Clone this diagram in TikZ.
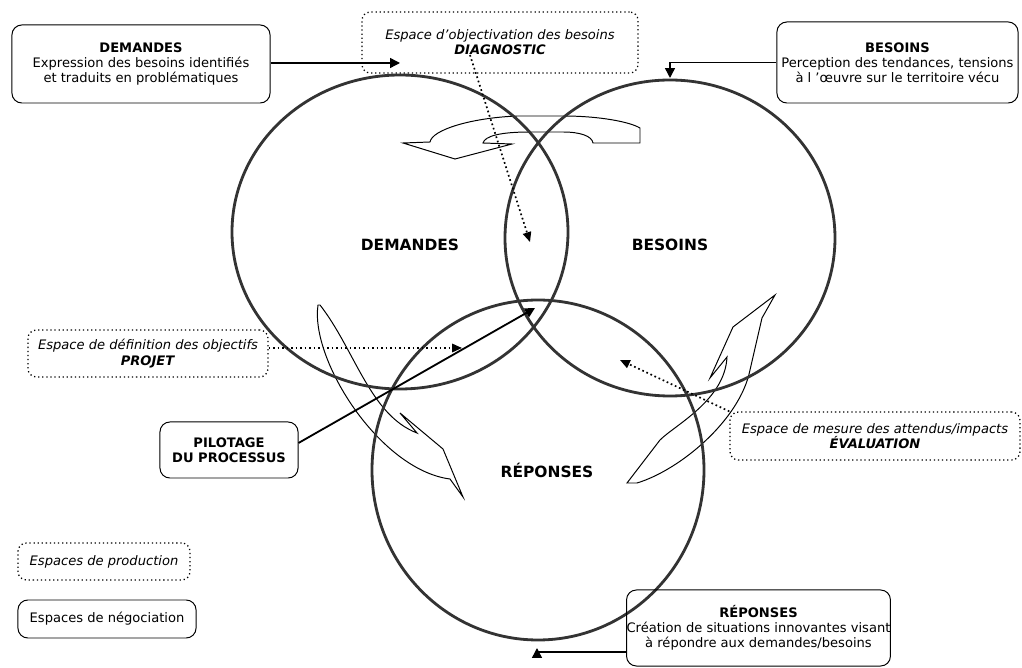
\documentclass[tikz,border=0pt]{standalone}
\usepackage{fontspec}
\setmainfont{DejaVu Sans}
\usetikzlibrary{arrows.meta}

\begin{document}
\begin{tikzpicture}[x=0.025cm, y=-0.025cm,
  every node/.style={align=center, inner sep=0pt, font=\fontsize{9.3}{10.8}\selectfont},
  nego/.style={draw, line width=0.7pt, rounded corners=7pt},
  prod/.style={draw, dotted, line width=0.9pt, rounded corners=6pt},
  zone/.style={line width=2pt, draw=black!80},
  zonelabel/.style={font=\fontsize{11}{13}\selectfont\bfseries},
  flux/.style={line width=0.7pt},
  lien/.style={line width=1pt, -{Triangle[length=7pt, width=7pt]}},
  pointille/.style={dotted, line width=1.2pt, -{Triangle[length=7pt, width=6pt]}}]

\useasboundingbox (0,0) rectangle (1022,668);

% fleches de circulation
\draw[flux] (403,143) -- (430,142) .. controls (432,130) and (470,118) .. (517,116)
  -- (563,116) .. controls (600,116) and (630,122) .. (640,128) -- (640,143)
  -- (593,143) .. controls (592,136) and (580,132) .. (563,132) -- (530,132)
  .. controls (500,132) and (485,136) .. (483,143) -- (512,144) -- (455,159) -- cycle;
\draw[flux] (318,305) .. controls (310,360) and (380,470) .. (450,479) -- (463,497)
  -- (443,449) -- (400,413) -- (417,433) .. controls (370,415) and (355,350) .. (320,305) -- cycle;
\draw[flux] (775,295) -- (733,327) -- (710,378) -- (727,357)
  .. controls (725,400) and (675,425) .. (660,440) -- (627,483) -- (637,483)
  .. controls (680,470) and (740,420) .. (750,370) -- (762,318) -- cycle;

% zones
\draw[zone] (400,232) ellipse [x radius=168, y radius=157];
\draw[zone] (670,238) ellipse [x radius=165, y radius=158];
\draw[zone] (538,470) ellipse [x radius=166, y radius=170];

\node[zonelabel] (zdem) at (410,245) {DEMANDES};
\node[zonelabel] (zbes) at (670,245) {BESOINS};
\node[zonelabel] (zrep) at (547,470) {RÉPONSES};

% espaces de negociation
\node[nego, minimum width=6.45cm, minimum height=1.95cm] (dem) at (141,64)
  {\textbf{DEMANDES}\\Expression des besoins identifiés\\et traduits en problématiques};
\node[nego, minimum width=6.025cm, minimum height=2.025cm] (bes) at (897.5,62.5)
  {\textbf{BESOINS}\\Perception des tendances, tensions\\à l ’œuvre sur le territoire vécu};
\node[nego, minimum width=6.075cm, minimum height=1.9cm] (rep) at (758.5,628)
  {\textbf{RÉPONSES}\\Création de situations innovantes visant\\à répondre aux demandes/besoins};
\node[nego, minimum width=3.45cm, minimum height=1.4cm] (pilot) at (229,450)
  {\textbf{PILOTAGE}\\\textbf{DU PROCESSUS}};

% espaces de production
\node[prod, minimum width=6.9cm, minimum height=1.525cm] (diag) at (500,42.5)
  {\textit{Espace d’objectivation des besoins}\\\textbf{\textit{DIAGNOSTIC}}};
\node[prod, minimum width=6cm, minimum height=1.175cm] (proj) at (148,353.5)
  {\textit{Espace de définition des objectifs}\\\textbf{\textit{PROJET}}};
\node[prod, minimum width=7.25cm, minimum height=1.2cm] (eval) at (875,436)
  {\textit{Espace de mesure des attendus/impacts}\\\textbf{\textit{ÉVALUATION}}};

% legende
\node[prod, minimum width=4.3cm, minimum height=0.925cm] (lprod) at (104,561.5)
  {\textit{Espaces de production}};
\node[nego, minimum width=4.45cm, minimum height=0.95cm] (lnego) at (107,619)
  {Espaces de négociation};

% liens
\coordinate (demin) at (400,63);
\coordinate (besin) at (670,78);
\coordinate (repin) at (537,648);
\coordinate (diagout) at (470,55);
\coordinate (diagin) at (530,242);
\coordinate (projin) at (462,348);
\coordinate (pilotin) at (535,308);
\coordinate (evalin) at (620,360);

\draw[lien] (dem.east |- demin) -- (demin);
\draw[lien] (bes.west) -| (besin);
\draw[lien] ([yshift=-0.6cm]rep.west) -| (repin);
\draw[lien, line width=1.3pt] ([yshift=0.175cm]pilot.east) -- (pilotin);
\draw[pointille] (diagout) -- (diagin);
\draw[pointille] (proj.east |- projin) -- (projin);
\draw[pointille] (eval.north west) -- (evalin);

\end{tikzpicture}
\end{document}
